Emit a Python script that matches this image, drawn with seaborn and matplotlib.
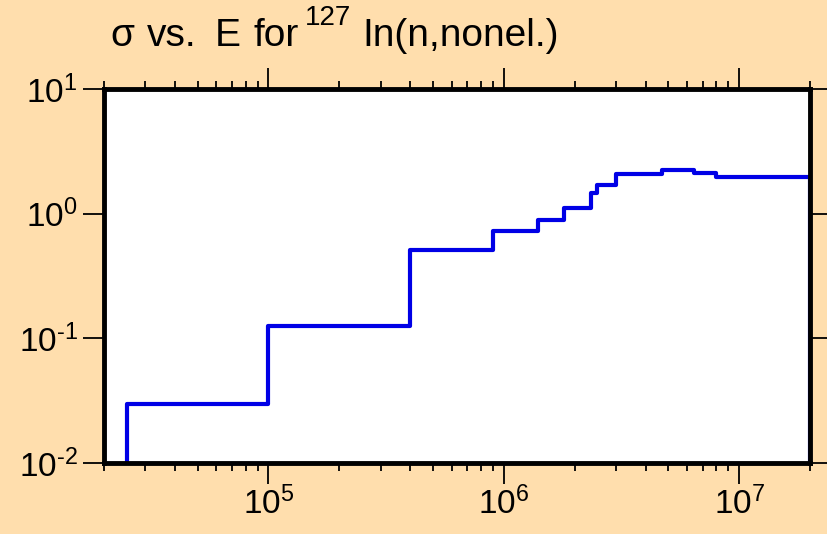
import numpy as np
import pandas as pd
import seaborn as sns
import matplotlib
matplotlib.use('Agg')
import matplotlib.pyplot as plt
from matplotlib.ticker import LogLocator, FixedLocator, NullFormatter

# group boundaries (eV) and cross section (b)
energy_edges = [2.5e4, 1e5, 4e5, 9e5, 1.4e6, 1.8e6, 2.35e6, 2.5e6, 3e6,
                4.7e6, 6.4e6, 8e6, 2e7]
sigma = [0.03, 0.125, 0.51, 0.72, 0.89, 1.11, 1.46, 1.69, 2.07,
         2.24, 2.12, 1.98]
x_decades = [5, 6, 7]
y_decades = [-2, -1, 0, 1]

BG = '#FFDEAD'
LINE = '#0000E6'


def step_frame(edges, values, floor=1e-2):
    """Histogram outline as a data frame for a steps-post line"""
    xs = [edges[0]] + list(edges[:-1]) + [edges[-1], edges[-1]]
    ys = [floor] + list(values) + [values[-1], floor]
    return pd.DataFrame({'energy': xs, 'sigma': ys})


def pow_label(d):
    exp = str(d).replace('-', r'\text{-}')
    return rf'$10^{{{exp}}}$'


def main():
    sns.set_theme(style='ticks')
    plt.rcParams['font.family'] = ['Liberation Sans', 'DejaVu Sans']
    plt.rcParams['mathtext.fontset'] = 'custom'
    plt.rcParams['mathtext.rm'] = 'Liberation Sans'
    plt.rcParams['mathtext.it'] = 'Liberation Sans'
    plt.rcParams['mathtext.default'] = 'rm'
    plt.rcParams['text.color'] = 'black'
    plt.rcParams['xtick.color'] = 'black'
    plt.rcParams['ytick.color'] = 'black'

    fig = plt.figure(figsize=(8.27, 5.34), dpi=100, facecolor=BG)
    ax = fig.add_axes([104 / 827, 1 - 463 / 534, 706 / 827, 374 / 534])
    ax.set_facecolor('white')

    df = step_frame(energy_edges, sigma)
    sns.lineplot(data=df, x='energy', y='sigma', ax=ax, estimator=None,
                 sort=False, drawstyle='steps-post', color=LINE,
                 linewidth=3.0)

    ax.set_xscale('log')
    ax.set_yscale('log')
    ax.set_xlim(2e4, 2e7)
    ax.set_ylim(1e-2, 1e1)
    ax.set_xlabel('')
    ax.set_ylabel('')

    ax.xaxis.set_major_locator(FixedLocator([10.0 ** d for d in x_decades]))
    ax.xaxis.set_minor_locator(LogLocator(base=10, subs=np.arange(2, 10)))
    ax.xaxis.set_minor_formatter(NullFormatter())
    ax.set_xticklabels([pow_label(d) for d in x_decades])
    ax.yaxis.set_major_locator(FixedLocator([10.0 ** d for d in y_decades]))
    ax.yaxis.set_minor_locator(FixedLocator([]))
    ax.set_yticklabels([pow_label(d) for d in y_decades])

    ax.tick_params(which='both', direction='out', top=True, right=True,
                   labeltop=False, labelright=False, color='black',
                   labelcolor='black', width=1.3)
    ax.tick_params(which='major', length=15, labelsize=24)
    ax.tick_params(axis='x', which='major', pad=2)
    ax.tick_params(axis='y', which='major', pad=4)
    ax.tick_params(which='minor', length=6)

    for side in ax.spines.values():
        side.set_linewidth(3.5)
        side.set_color('black')
        side.set_zorder(3)

    # title: the original is set wide, so each word is placed where it sits
    words = [('σ', 110), ('vs.', 147), ('E', 215), ('for', 253),
             ('In(n,nonel.)', 362)]
    for word, px in words:
        fig.text(px / 827, 1 - 46 / 534, word, fontsize=28,
                 ha='left', va='baseline')
    fig.text(305 / 827, 1 - 25 / 534, '127', fontsize=20,
             ha='left', va='baseline')

    fig.savefig('out.png', dpi=100, facecolor=BG)


if __name__ == '__main__':
    main()
